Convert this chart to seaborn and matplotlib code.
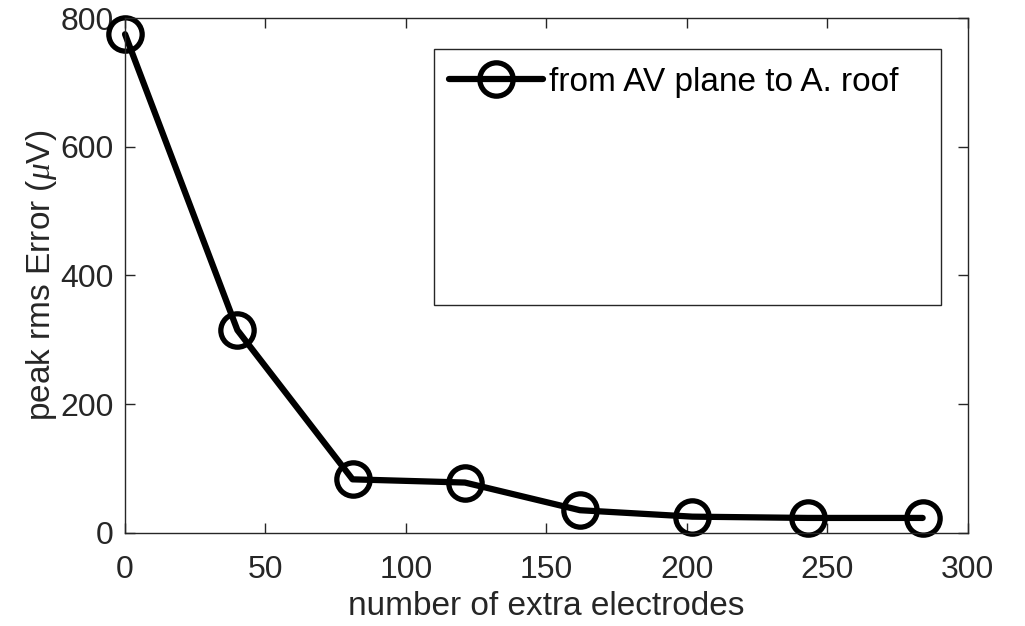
import matplotlib
matplotlib.use("Agg")
import matplotlib.pyplot as plt
from matplotlib.patches import Rectangle
import seaborn as sns
import pandas as pd

# values
n_electrodes = [0, 40, 81, 121, 162, 202, 243, 284]
peak_rms_error = [775, 315, 83, 78, 35, 25, 23, 23]
series_label = "from AV plane to A. roof"

x_ticks = [0, 50, 100, 150, 200, 250, 300]
y_ticks = [0, 200, 400, 600, 800]

df = pd.DataFrame({"n": n_electrodes, "err": peak_rms_error})

sns.set_style("ticks")
plt.rcParams['font.family'] = ['Liberation Sans', 'DejaVu Sans']
plt.rcParams['mathtext.fontset'] = 'custom'
plt.rcParams['mathtext.it'] = 'Liberation Serif:italic'

fig = plt.figure(figsize=(10.25, 6.26), dpi=100)
ax = fig.add_axes([0.122, 0.149, 0.822, 0.822])

sns.lineplot(data=df, x="n", y="err", ax=ax, color="black", linewidth=4.5,
             marker="o", markersize=24, markerfacecolor="none",
             markeredgecolor="black", markeredgewidth=3.8, label=series_label,
             clip_on=False)

ax.set_xlim(0, 300)
ax.set_ylim(0, 800)
ax.set_xticks(x_ticks)
ax.set_yticks(y_ticks)
ax.tick_params(direction="in", top=True, right=True, length=7, width=1,
               color="#262626", labelsize=23, labelcolor="#262626")
ax.tick_params(axis="x", pad=16)
ax.tick_params(axis="y", pad=8)
for s in ax.spines.values():
    s.set_visible(True)
    s.set_color("#262626")
    s.set_linewidth(1)

ax.set_xlabel("number of extra electrodes", fontsize=24, color="#262626", labelpad=4)
ax.set_ylabel(r"peak rms Error ($\mu$V)", fontsize=24, color="#262626", labelpad=1)

# legend entry at top of a large box, like the MATLAB figure
leg = ax.legend(loc="center left", bbox_to_anchor=(0.385, 0.875), frameon=False,
                fontsize=24, handlelength=2.8, handletextpad=0.2,
                borderpad=0, borderaxespad=0)
for txt in leg.get_texts():
    txt.set_color("black")
ax.add_patch(Rectangle((0.367, 0.443), 0.602, 0.497, transform=ax.transAxes,
                       fill=False, edgecolor="#262626", linewidth=1, zorder=5))

fig.savefig("out.png", dpi=100)
